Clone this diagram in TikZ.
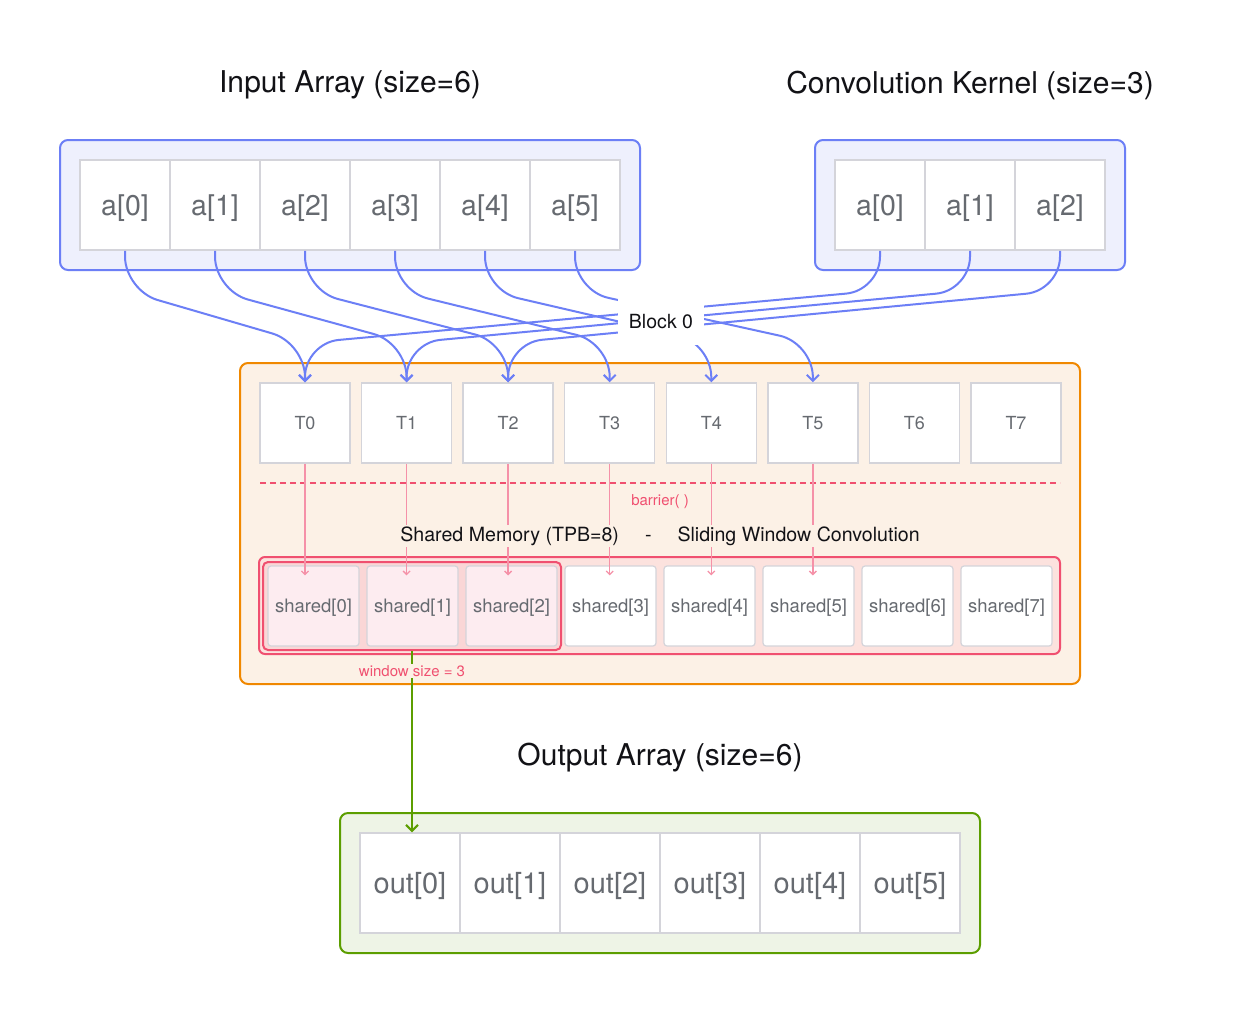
\documentclass[tikz,border=0pt]{standalone}
\usepackage{fontspec}
\setmainfont{TeX Gyre Heros}
\usetikzlibrary{arrows.meta,calc}
\definecolor{eblue}{RGB}{108,127,246}
\definecolor{bluebg}{RGB}{238,240,253}
\definecolor{cellgray}{RGB}{212,212,218}
\definecolor{txtgray}{RGB}{102,106,112}
\definecolor{orng}{RGB}{240,136,0}
\definecolor{orngbg}{RGB}{252,241,230}
\definecolor{redc}{RGB}{240,80,112}
\definecolor{pinkln}{RGB}{245,145,168}
\definecolor{shbg}{RGB}{252,226,222}
\definecolor{winbg}{RGB}{250,214,214}
\definecolor{pinkcell}{RGB}{253,236,240}
\definecolor{grn}{RGB}{92,158,0}
\definecolor{grnbg}{RGB}{238,244,230}
\definecolor{ink}{RGB}{18,18,22}
\begin{document}
\begin{tikzpicture}[x=1pt,y=-1pt,
  title/.style={font=\fontsize{30}{36}\selectfont, text=ink, text depth=0pt},
  box/.style={draw=#1, line width=2pt, rounded corners=8pt},
  cellA/.style={draw=cellgray, line width=1.5pt, fill=white, minimum width=90pt, minimum height=90pt, inner sep=0pt, text=txtgray, text depth=0pt, font=\fontsize{28.5}{34}\selectfont},
  outcell/.style={cellA, minimum width=100pt, minimum height=100pt, font=\fontsize{29}{34}\selectfont},
  tbox/.style={draw=cellgray, line width=1.5pt, fill=white, minimum width=90pt, minimum height=80pt, inner sep=0pt, text=txtgray, font=\fontsize{18}{22}\selectfont},
  shcell/.style={draw=cellgray, line width=1.2pt, rounded corners=3pt, fill=#1, minimum width=91pt, minimum height=80pt, inner sep=0pt, text=txtgray, text depth=0pt, font=\fontsize{18.5}{22}\selectfont},
  shcell/.default=white,
  bflow/.style={draw=eblue, line width=2pt, rounded corners=34pt, -{Straight Barb[length=6pt,width=12pt]}},
  pflow/.style={draw=pinkln, line width=1.3pt, -{Straight Barb[length=3.5pt,width=7pt]}, shorten >=-10pt},
  gflow/.style={draw=grn, line width=2pt, -{Straight Barb[length=6pt,width=12pt]}},
  smalllbl/.style={font=\fontsize{15}{18}\selectfont, text=redc}
]
\fill[white] (0,0) rectangle (1260,1013);
\useasboundingbox (0,0) rectangle (1260,1013);
% titles
\node[title] (tin) at (350,82) {Input Array (size=6)};
\node[title] (tk) at (970,82) {Convolution Kernel (size=3)};
\node[title] (tout) at (660,754) {Output Array (size=6)};
% containers
\draw[box=eblue, fill=bluebg] (60,140) rectangle (640,270);
\draw[box=eblue, fill=bluebg] (815,140) rectangle (1125,270);
\draw[box=orng, fill=orngbg] (240,363) rectangle (1080,684);
\draw[box=grn, fill=grnbg] (340,813) rectangle (980,953);
% cells
\foreach \i in {0,...,5} \node[cellA] (a\i) at ({125+90*\i},205) {a[\i]};
\foreach \i in {0,1,2} \node[cellA] (k\i) at ({880+90*\i},205) {a[\i]};
\foreach \i in {0,...,7} \node[tbox] (T\i) at ({305+101.57*\i},423) {T\i};
\foreach \i in {0,...,5} \node[outcell] (o\i) at ({410+100*\i},883) {out[\i]};
% barrier
\draw[redc, line width=1.8pt, dash pattern=on 6pt off 4pt] (260,483) -- (1060,483);
\node[smalllbl] (bar) at (660,502) {barrier( )};
% shared memory
\draw[box=redc, fill=shbg, rounded corners=6pt] (259,557) rectangle (1060,654);
\node[draw=redc, line width=2pt, rounded corners=5pt, fill=winbg, minimum width=298pt, minimum height=88pt, inner sep=0pt] (win) at (412,606) {};
\foreach \i in {0,1,2} \node[shcell=pinkcell] (sh\i) at ({313.5+99*\i},606) {shared[\i]};
\foreach \i in {3,...,7} \node[shcell] (sh\i) at ({313.5+99*\i},606) {shared[\i]};
% thread -> shared
\foreach \i in {0,...,5} \draw[pflow] (T\i.south) -- (T\i.south |- sh\i.north);
\node[fill=orngbg, inner sep=2pt, font=\fontsize{19.6}{23}\selectfont, text=ink] (shl) at (660,536) {Shared Memory (TPB=8)\hspace{26pt}-\hspace{26pt}Sliding Window Convolution};
% window -> output
\draw[gflow] (win.south) -- (win.south |- o0.north);
\node[smalllbl, fill=orngbg, inner sep=1pt] (wl) at (412,671) {window size = 3};
% input/kernel -> threads
\coordinate (bend1) at (0,290.5);
\coordinate (bend2) at (0,343);
\foreach \s/\t in {a0/T0,a1/T1,a2/T2,a3/T3,a4/T4,a5/T5,k0/T0,k1/T1,k2/T2}
  \draw[bflow] (\s.south) -- (\s.south |- bend1) -- (\t.north |- bend2) -- (\t.north);
\node[fill=white, minimum width=86pt, minimum height=46pt, inner sep=0pt, font=\fontsize{19.5}{23}\selectfont, text=ink] (blk) at (661,321.5) {Block 0};
\end{tikzpicture}
\end{document}
